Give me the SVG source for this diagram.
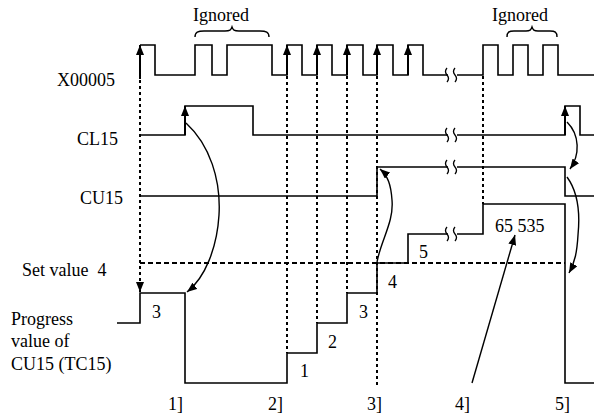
<svg xmlns="http://www.w3.org/2000/svg" width="594" height="418" viewBox="0 0 594 418">
<defs>
<marker id="ah" markerUnits="userSpaceOnUse" markerWidth="10" markerHeight="8" refX="10" refY="4" orient="auto" viewBox="0 0 10 8">
<path d="M0,0 L10,4 L0,8 z" fill="#000"/>
</marker>
<path id="brk" d="M-5,-7 q-3,3.5 0,7 q3,3.5 0,7 M3,-7 q-3,3.5 0,7 q3,3.5 0,7" fill="none" stroke="#000" stroke-width="1.3"/>
</defs>
<style>
text{font-family:"Liberation Serif","Times New Roman",serif;font-size:18px;fill:#000}
.w{fill:none;stroke:#000;stroke-width:1.6}
.d{fill:none;stroke:#000;stroke-width:2;stroke-dasharray:3 3}
.h{fill:none;stroke:#000;stroke-width:2;stroke-dasharray:5 3}
.c{fill:none;stroke:#000;stroke-width:1.4}
.e{fill:none;stroke:#000;stroke-width:2}
</style>
<rect width="594" height="418" fill="#fff"/>

<g id="x00005">
<text x="57" y="86">X00005</text>
<path class="w" d="M140,45 H155 V75 H195 V45 H212 V75 H227 V45 H272 V75 H287 V45 H302 V75 H317 V45 H332 V75 H347 V45 H363 V75 H377 V45 H393 V75 H408 V45 H423 V75 H448 M457,75 H483 V45 H498 V75 H513 V45 H528 V75 H543 V45 H558 V75 H594"/>
<use href="#brk" x="452" y="75"/>
</g>

<g id="ignored1">
<text x="193" y="21">Ignored</text>
<path class="c" d="M195,37 C195,32 198,31 204,31 L225,31 C230,31 231,30 232,27 C233,30 234,31 239,31 L260,31 C266,31 269,32 269,37"/>
</g>
<g id="ignored2">
<text x="492" y="21">Ignored</text>
<path class="c" d="M507,37 C507,32 509,31 514,31 L526,31 C530,31 531,30 532,27 C533,30 534,31 538,31 L550,31 C555,31 557,32 557,37"/>
</g>

<g id="cl15">
<text x="77" y="145">CL15</text>
<path class="w" d="M140,135 H185 V106 H253 V135 H448 M457,135 H565 V106 H580 V135 H594"/>
<use href="#brk" x="452" y="135"/>
</g>

<g id="cu15">
<text x="80" y="204">CU15</text>
<path class="w" d="M140,196 H377 V167 H448 M457,167 H565 V196 H594"/>
<use href="#brk" x="452" y="167"/>
</g>

<g id="setvalue">
<text x="22" y="276" xml:space="preserve">Set value  4</text>
<path class="h" d="M140,263 H565"/>
</g>

<g id="progress">
<text x="11" y="325">Progress</text>
<text x="11" y="347">value of</text>
<text x="11" y="370">CU15 (TC15)</text>
<path class="w" d="M117,323 H140 V293 H185 V383 H287 V353 H317 V323 H347 V293 H377 V263 H408 V234 H448 M457,234 H483 V204 H565 V383 H594"/>
<use href="#brk" x="452" y="234"/>
<text x="152" y="318">3</text>
<text x="300" y="377">1</text>
<text x="328" y="348">2</text>
<text x="359" y="318">3</text>
<text x="388" y="288">4</text>
<text x="419" y="258">5</text>
<text x="495" y="232">65 535</text>
</g>

<g id="points">
<text x="168" y="410">1]</text>
<text x="268" y="410">2]</text>
<text x="367" y="410">3]</text>
<text x="455" y="410">4]</text>
<text x="555" y="410">5]</text>
</g>

<g id="connectors">
<line class="e" x1="140" y1="79" x2="140" y2="45" marker-end="url(#ah)"/>
<line class="e" x1="287" y1="75" x2="287" y2="45" marker-end="url(#ah)"/>
<line class="e" x1="317" y1="75" x2="317" y2="45" marker-end="url(#ah)"/>
<line class="e" x1="347" y1="75" x2="347" y2="45" marker-end="url(#ah)"/>
<line class="e" x1="377" y1="75" x2="377" y2="45" marker-end="url(#ah)"/>
<line class="e" x1="408" y1="75" x2="408" y2="45" marker-end="url(#ah)"/>
<line class="e" x1="185" y1="135" x2="185" y2="106" marker-end="url(#ah)"/>
<line class="e" x1="565" y1="135" x2="565" y2="106" marker-end="url(#ah)"/>

<line class="d" x1="140" y1="80" x2="140" y2="292" marker-end="url(#ah)"/>
<line class="d" x1="287" y1="76" x2="287" y2="353"/>
<line class="d" x1="317" y1="76" x2="317" y2="323"/>
<line class="d" x1="347" y1="76" x2="347" y2="293"/>
<line class="d" x1="377" y1="76" x2="377" y2="385"/>
<line class="d" x1="483" y1="76" x2="483" y2="204"/>

<path class="c" d="M186,123 C210,145 221,180 219,215 C217,248 205,278 187,292" marker-end="url(#ah)"/>
<path class="c" d="M377,262 C381,240 394,222 392,200 C391,185 388,176 380,169" marker-end="url(#ah)"/>
<path class="c" d="M567,122 C580,135 580,155 570,169" marker-end="url(#ah)"/>
<path class="c" d="M567,177 C578,192 580,215 578,235 C577,252 575,262 569,273" marker-end="url(#ah)"/>
<line class="c" x1="472" y1="383" x2="515" y2="235" marker-end="url(#ah)"/>
</g>
</svg>
